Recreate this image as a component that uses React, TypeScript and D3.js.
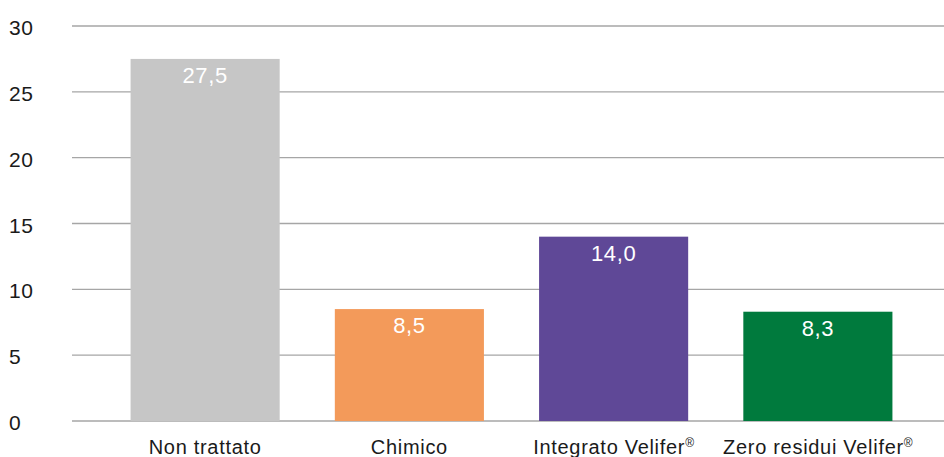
import { useEffect, useRef } from 'react';
import * as d3 from 'd3';

const categories = ['Non trattato', 'Chimico', 'Integrato Velifer', 'Zero residui Velifer'];
const registered = [false, false, true, true];
const values = [27.5, 8.5, 14.0, 8.3];
const valueLabels = ['27,5', '8,5', '14,0', '8,3'];
const colors = ['#c6c6c6', '#f39a5a', '#5f4897', '#007a3d'];
const yTicks = [0, 5, 10, 15, 20, 25, 30];

const App = () => {
  const svgRef = useRef<SVGSVGElement>(null!);
  const width = 944;
  const height = 457;

  useEffect(() => {
    document.body.style.margin = '0';
    const svg = d3.select(svgRef.current);
    svg.selectAll('*').remove();
    const font = '"Liberation Sans", Arial, Helvetica, sans-serif';

    const y = d3.scaleLinear().domain([0, 30]).range([421, 26]);
    const x = d3
      .scaleBand<string>()
      .domain(categories)
      .range([103, 920])
      .paddingInner(0.27)
      .paddingOuter(0.135);

    // grid
    svg
      .append('g')
      .selectAll('line')
      .data(yTicks)
      .enter()
      .append('line')
      .attr('x1', 72)
      .attr('x2', width)
      .attr('y1', d => y(d))
      .attr('y2', d => y(d))
      .attr('stroke', '#a6a6a6')
      .attr('stroke-width', 1.3);

    // y labels
    svg
      .append('g')
      .selectAll('text')
      .data(yTicks)
      .enter()
      .append('text')
      .attr('x', 9)
      .attr('y', d => y(d) + 9)
      .attr('font-family', font)
      .attr('font-size', 21)
      .attr('letter-spacing', 0.5)
      .attr('fill', '#1a1a1a')
      .text(d => d);

    // bars
    svg
      .append('g')
      .selectAll('rect')
      .data(values)
      .enter()
      .append('rect')
      .attr('x', (_, i) => x(categories[i])!)
      .attr('y', d => y(d))
      .attr('width', x.bandwidth())
      .attr('height', d => y(0) - y(d))
      .attr('fill', (_, i) => colors[i]);

    // value labels
    svg
      .append('g')
      .selectAll('text')
      .data(values)
      .enter()
      .append('text')
      .attr('x', (_, i) => x(categories[i])! + x.bandwidth() / 2)
      .attr('y', d => y(d) + 24)
      .attr('text-anchor', 'middle')
      .attr('font-family', font)
      .attr('font-size', 22)
      .attr('letter-spacing', 0.6)
      .attr('fill', '#ffffff')
      .text((_, i) => valueLabels[i]);

    // category labels
    const cat = svg
      .append('g')
      .selectAll('text')
      .data(categories)
      .enter()
      .append('text')
      .attr('x', d => x(d)! + x.bandwidth() / 2)
      .attr('y', 454)
      .attr('text-anchor', 'middle')
      .attr('font-family', font)
      .attr('font-size', 20)
      .attr('letter-spacing', 0.7)
      .attr('fill', '#1a1a1a');
    cat.append('tspan').text(d => d);
    cat
      .filter((_, i) => registered[i])
      .append('tspan')
      .attr('font-size', 12)
      .attr('dy', -7)
      .attr('letter-spacing', 0)
      .text('®');
  }, []);

  return (
    <svg
      ref={svgRef}
      width={width}
      height={height}
      style={{ position: 'absolute', left: 0, top: 0, background: '#fff' }}
    ></svg>
  );
};

export default App;
